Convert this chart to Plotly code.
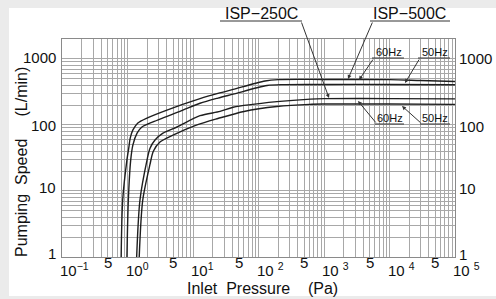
import math
import plotly.graph_objects as go

# ---------------- data ----------------
p_500_60 = [0.80, 0.845, 0.98, 1.05, 1.10, 1.21, 1.44, 1.98, 4.0, 12.8, 24, 41, 126, 200, 1000, 10000, 30000, 100000]
s_500_60 = [1, 7.3, 29.5, 46, 63, 84, 107, 127, 168, 250, 300, 345, 462, 485, 488, 485, 470, 455]

p_500_50 = [0.98, 1.03, 1.12, 1.21, 1.40, 1.66, 2.45, 7.0, 12.8, 24, 41, 135, 250, 1000, 10000, 100000]
s_500_50 = [1, 7.3, 29.5, 50, 75, 93, 111, 168, 213, 255, 292, 395, 408, 410, 410, 405]

p_250_60 = [1.38, 1.55, 1.99, 2.2, 2.63, 3.48, 5.7, 12.8, 25.9, 41, 191, 620, 1000, 10000, 100000]
s_250_60 = [1, 7.3, 29.5, 44, 59, 75, 93, 138, 160, 185, 225, 246, 250, 250, 248]

p_250_50 = [1.51, 1.71, 2.2, 2.48, 3.13, 4.95, 11.5, 24, 60, 191, 600, 1000, 10000, 100000]
s_250_50 = [1, 7.3, 25, 40, 55, 70, 100, 125, 160, 190, 205, 207, 207, 205]

x_label_vals = [0.1, 0.5, 1, 5, 10, 50, 100, 500, 1000, 5000, 10000, 50000, 100000]
x_label_text = ["10<sup>−1</sup>", "5", "10<sup>0</sup>", "5", "10<sup>1</sup>", "5",
                "10 <sup>2</sup>", "5", "10 <sup>3</sup>", "5", "10 <sup>4</sup>", "5", "10 <sup>5</sup>"]
y_label_vals = [1, 10, 100, 1000]
y_label_text = ["1", "10", "100", "1000"]

x_title = "Inlet\u00a0\u00a0Pressure\u00a0\u00a0\u00a0\u00a0(Pa)"
y_title = "Pumping\u00a0\u00a0Speed\u00a0\u00a0\u00a0\u00a0\u00a0(L/min)"

# ---------------- geometry / style ----------------
W, H = 496, 299
L, R, T, B = 62, 455, 39, 257
YMAX = 2000
LINE = "#1e1e1e"
GRID = "#a8a8a8"
TXT = "#111111"
FONT = "Liberation Sans, Arial, sans-serif"
BG = "#ebebeb"
Y_LABEL_SHIFT = {1: 4, 10: 3, 100: -1, 1000: 1}


def pxp(px):
    return (px - L) / (R - L)


def pyp(py):
    return (B - py) / (B - T)


def lx(px):
    return -1 + (px - L) / (R - L) * 6


def ly(py):
    return (B - py) / (B - T) * math.log10(YMAX)


x_grid = [m * 10 ** e for e in range(-1, 5) for m in range(1, 10)] + [1e5]
y_grid = [m * 10 ** e for e in range(0, 3) for m in range(1, 10)] + [1000, 2000]

fig = go.Figure()
for xs, ys in [(p_500_60, s_500_60), (p_500_50, s_500_50), (p_250_60, s_250_60), (p_250_50, s_250_50)]:
    fig.add_trace(go.Scatter(x=xs, y=ys, mode="lines",
                             line=dict(color=LINE, width=1.4, shape="spline", smoothing=0.8),
                             showlegend=False, hoverinfo="skip"))

annotations = []
# x tick labels
for v, t in zip(x_label_vals, x_label_text):
    if t == "5":
        annotations.append(dict(x=math.log10(v), xref="x", y=pyp(262), yref="paper", text=t, showarrow=False,
                                xanchor="center", yanchor="middle",
                                font=dict(size=15, color=TXT, family=FONT)))
    else:
        annotations.append(dict(x=math.log10(v), xref="x", y=pyp(269), yref="paper", text=t, showarrow=False,
                                xanchor="left", yanchor="middle", xshift=-4,
                                font=dict(size=15, color=TXT, family=FONT)))
# y tick labels (left and right)
for v, t in zip(y_label_vals, y_label_text):
    annotations.append(dict(x=0, xref="paper", y=math.log10(v), yref="y", text=t, showarrow=False,
                            xanchor="right", yanchor="middle", xshift=-4, yshift=Y_LABEL_SHIFT[v],
                            font=dict(size=15, color=TXT, family=FONT)))
    annotations.append(dict(x=1, xref="paper", y=math.log10(v), yref="y", text=t, showarrow=False,
                            xanchor="left", yanchor="middle", xshift=2, yshift=Y_LABEL_SHIFT[v] - 1,
                            font=dict(size=15, color=TXT, family=FONT)))

# axis titles
annotations.append(dict(x=pxp(262), y=pyp(288), xref="paper", yref="paper", text=x_title,
                        xanchor="center", yanchor="middle",
                        showarrow=False, font=dict(size=16, color=TXT, family=FONT)))
annotations.append(dict(x=pxp(21), y=pyp(162), xref="paper", yref="paper", text=y_title,
                        xanchor="center", yanchor="middle",
                        showarrow=False, textangle=-90, font=dict(size=16, color=TXT, family=FONT)))

# model / frequency labels: (text, center px, center py, size, underline x0, x1, uy, tail px, tip px, tip py)
labels = [
    ("ISP−250C", 261, 14, 16, 220, 302, 21, 301, 329, 98),
    ("ISP−500C", 409, 14, 16, 370, 450, 21, 373, 348, 79),
    ("60Hz", 389, 52, 11, 372, 404, 58, 374, 359, 80),
    ("50Hz", 435, 52, 11, 418, 450, 58, 420, 405, 83),
    ("60Hz", 390, 118, 11, 375, 404, 124, 377, 358, 101),
    ("50Hz", 435, 118, 11, 420, 450, 124, 422, 402, 106),
]
shapes = [dict(type="rect", xref="paper", yref="paper", x0=pxp(9), x1=pxp(W + 5), y0=pyp(296), y1=pyp(8),
               fillcolor="white", line=dict(width=0), layer="below")]
for txt, cx, cy, fs, ux0, ux1, uy, tx, px_, py_ in labels:
    annotations.append(dict(x=pxp(cx), y=pyp(cy), xref="paper", yref="paper", text=txt, showarrow=False,
                            xanchor="center", yanchor="middle",
                            font=dict(size=fs, color=TXT, family=FONT)))
    shapes.append(dict(type="line", xref="paper", yref="paper", x0=pxp(ux0), x1=pxp(ux1), y0=pyp(uy), y1=pyp(uy),
                       line=dict(color="#333", width=1)))
    annotations.append(dict(x=lx(px_), y=ly(py_), xref="x", yref="y", ax=lx(tx), ay=ly(uy), axref="x", ayref="y",
                            text="", showarrow=True, arrowhead=2, arrowsize=0.8, arrowwidth=1, arrowcolor="#333",
                            font=dict(size=1)))

fig.update_layout(
    width=W, height=H,
    margin=dict(l=L, r=W - R, t=T, b=H - B, autoexpand=False),
    paper_bgcolor=BG, plot_bgcolor="white",
    font=dict(family=FONT, color=TXT),
    xaxis=dict(type="log", range=[-1, 5], tickvals=x_grid, showticklabels=False, ticks="",
               showgrid=True, gridcolor=GRID, gridwidth=1, showline=True, linecolor="#8a8a8a",
               linewidth=1, mirror=True, zeroline=False, fixedrange=True),
    yaxis=dict(type="log", range=[0, math.log10(YMAX)], tickvals=y_grid, showticklabels=False,
               ticks="", showgrid=True, gridcolor=GRID, gridwidth=1, showline=True, linecolor="#8a8a8a",
               linewidth=1, mirror=True, zeroline=False, fixedrange=True),
    annotations=annotations,
    shapes=shapes,
)

fig.write_html("out.html", config={"displayModeBar": False, "staticPlot": True},
               post_script="document.body.style.margin='0';document.body.style.background='" + BG + "';"
                           "document.documentElement.style.overflow='hidden';")
